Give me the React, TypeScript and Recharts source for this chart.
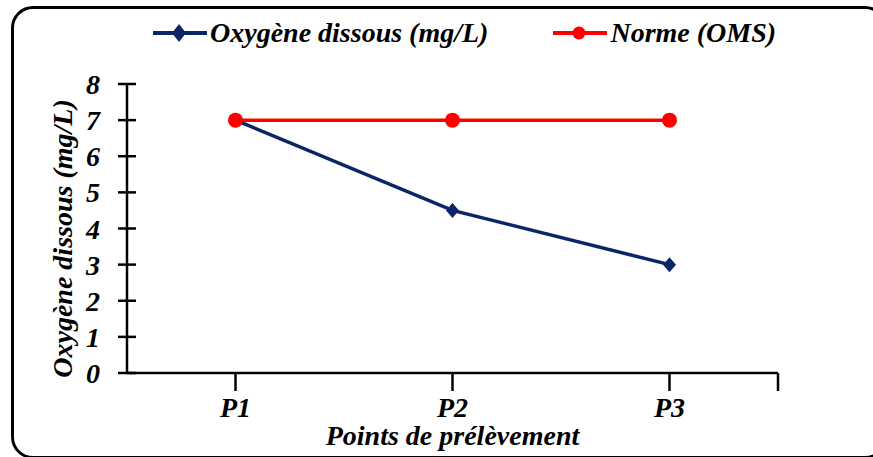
import { LineChart, Line, XAxis, YAxis, Legend } from "recharts";

const NAVY = "#0B2566";
const RED = "#FF0000";
const FONT = '"Liberation Serif", "Times New Roman", serif';

const categories = ["P1", "P2", "P3"];
const oxygene = [7, 4.5, 3];
const norme = [7, 7, 7];
const yTicks = [0, 1, 2, 3, 4, 5, 6, 7, 8];
const xTicks = [0, 1, 2, 2.5];
const legendOrder = ["oxygene", "norme"];

const data = categories.map((name, i) => ({
  idx: i,
  name,
  oxygene: oxygene[i],
  norme: norme[i],
}));

const textStyle = {
  fontFamily: FONT,
  fontWeight: 700,
  fontStyle: "italic" as const,
  fontSize: 28,
  fill: "#000",
};

function YTick(props: any) {
  const { x, y, payload } = props;
  return (
    <g>
      <line x1={x + 18} x2={x + 36} y1={y} y2={y} stroke="#000" strokeWidth={2.5} />
      <text x={x} y={y} dy={10} textAnchor="end" style={textStyle}>
        {payload.value}
      </text>
    </g>
  );
}

function XTick(props: any) {
  const { x, y, payload } = props;
  const label = categories[payload.value];
  return (
    <g>
      <line x1={x} x2={x} y1={y - 18} y2={y} stroke="#000" strokeWidth={2.5} />
      {label && (
        <text x={x} y={y} dy={26} textAnchor="middle" style={textStyle}>
          {label}
        </text>
      )}
    </g>
  );
}

function Diamond(props: any) {
  const { cx, cy } = props;
  if (cx == null || cy == null) return null;
  return (
    <path
      d={`M${cx},${cy - 7.5} L${cx + 6.5},${cy} L${cx},${cy + 7.5} L${cx - 6.5},${cy} Z`}
      fill={NAVY}
    />
  );
}

function RedDot(props: any) {
  const { cx, cy } = props;
  if (cx == null || cy == null) return null;
  return <circle cx={cx} cy={cy} r={7.5} fill={RED} />;
}

function LegendContent(props: any) {
  const items = [...(props.payload || [])].sort(
    (a: any, b: any) => legendOrder.indexOf(a.dataKey) - legendOrder.indexOf(b.dataKey)
  );
  return (
    <div style={{ display: "flex", alignItems: "center", height: 40, paddingLeft: 152 }}>
      {items.map((entry: any, i: number) => {
        const isOxy = entry.dataKey === "oxygene";
        const color = isOxy ? NAVY : RED;
        return (
          <div
            key={i}
            style={{ display: "flex", alignItems: "center", marginRight: i === 0 ? 64 : 0 }}
          >
            <svg width={56} height={40}>
              <line x1={1} x2={55} y1={20} y2={20} stroke={color} strokeWidth={4} />
              {isOxy ? (
                <path d="M27,11 L34,20 L27,29 L20,20 Z" fill={color} />
              ) : (
                <circle cx={27} cy={20} r={6.5} fill={color} />
              )}
            </svg>
            <span
              style={{
                fontFamily: FONT,
                fontWeight: 700,
                fontStyle: "italic",
                fontSize: 28,
                color: "#000",
                marginLeft: 2,
              }}
            >
              {entry.value}
            </span>
          </div>
        );
      })}
    </div>
  );
}

export default function App() {
  return (
    <div
      style={{
        position: "absolute",
        left: 0,
        top: 0,
        width: 873,
        height: 457,
        background: "#fff",
      }}
    >
      <div
        style={{
          position: "absolute",
          left: 11,
          top: 6,
          width: 870,
          height: 447,
          border: "3px solid #000",
          borderRadius: 22,
        }}
      />
      <LineChart
        width={873}
        height={457}
        data={data}
        margin={{ top: 44, right: 95, bottom: 14, left: 20 }}
      >
        <XAxis
          dataKey="idx"
          type="number"
          domain={[-0.5, 2.5]}
          ticks={xTicks}
          interval={0}
          tickSize={9}
          tickMargin={9}
          tickLine={false}
          tick={<XTick />}
          axisLine={{ stroke: "#000", strokeWidth: 2.5 }}
          height={70}
          allowDataOverflow
          label={(p: any) => {
            const vb = p.viewBox;
            return (
              <text
                x={vb.x + vb.width / 2}
                y={vb.y + 72}
                textAnchor="middle"
                style={textStyle}
              >
                Points de prélèvement
              </text>
            );
          }}
        />
        <YAxis
          type="number"
          domain={[0, 8]}
          ticks={yTicks}
          interval={0}
          width={107}
          tickSize={9}
          tickMargin={18}
          tickLine={false}
          tick={<YTick />}
          axisLine={{ stroke: "#000", strokeWidth: 2.5 }}
          label={(p: any) => {
            const vb = p.viewBox;
            const lx = vb.x + 52;
            const ly = vb.y + vb.height / 2 + 10;
            return (
              <text
                x={lx}
                y={ly}
                transform={`rotate(-90, ${lx}, ${ly})`}
                textAnchor="middle"
                style={textStyle}
              >
                Oxygène dissous (mg/L)
              </text>
            );
          }}
        />
        <Legend
          verticalAlign="top"
          align="left"
          content={<LegendContent />}
          wrapperStyle={{ top: 13, left: 0, width: 873, height: 40 }}
        />
        <Line
          type="linear"
          dataKey="oxygene"
          name="Oxygène dissous (mg/L)"
          stroke={NAVY}
          strokeWidth={3.5}
          dot={<Diamond />}
          activeDot={false}
          isAnimationActive={false}
        />
        <Line
          type="linear"
          dataKey="norme"
          name="Norme (OMS)"
          stroke={RED}
          strokeWidth={3.5}
          dot={<RedDot />}
          activeDot={false}
          isAnimationActive={false}
        />
      </LineChart>
    </div>
  );
}
